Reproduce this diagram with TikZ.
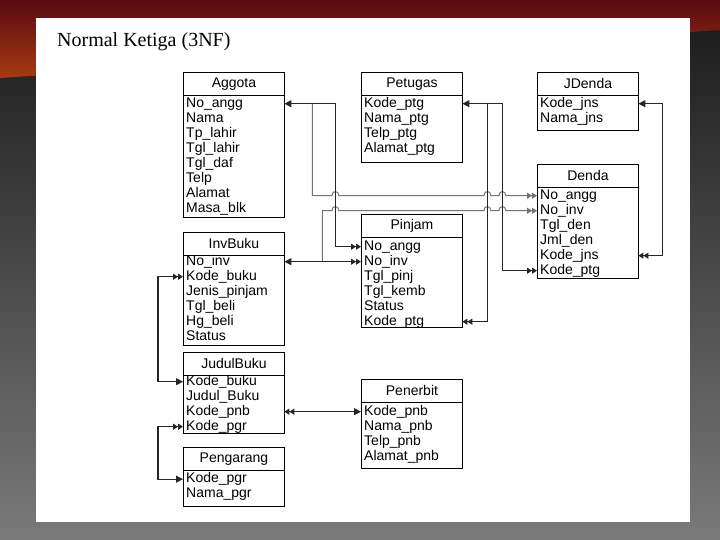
\documentclass[tikz,border=0pt]{standalone}
\usepackage{fontspec}
\setmainfont{Liberation Serif}
\newfontfamily\tabfont{Liberation Sans}
\usetikzlibrary{arrows.meta,calc}
\definecolor{redtop}{RGB}{88,10,18}
\definecolor{redbot}{RGB}{168,58,16}
\definecolor{bgtop}{RGB}{24,24,24}
\definecolor{bgbot}{RGB}{122,122,122}
\newcommand\ertable[7]{%
  \node[ttl] (#1) at (#2,#3) {#4};
  \node[bodybox, minimum height=#6-#3-23] (#1b) at (#2,#3+23) {};
  \foreach \f [count=\i] in {#7} {\node[fld] (#1-\i) at (#2,#5+\i*15-15) {\f};}
}
\begin{document}
\begin{tikzpicture}[x=1pt,y=-1pt,
  ttl/.style={draw, line width=0.9pt, minimum width=101pt, minimum height=23pt, inner sep=0pt,
    font=\tabfont\fontsize{14}{16}\selectfont, anchor=north west},
  bodybox/.style={draw, line width=0.9pt, inner sep=0pt, anchor=north west, minimum width=101pt},
  fld/.style={inner xsep=3pt, inner ysep=0pt, text width=95pt, align=left, minimum height=15pt,
    text height=10pt, text depth=3pt, font=\tabfont\fontsize{14}{15}\selectfont, anchor=north west},
  conn/.style={draw=black!85, line width=1.2pt},
  branch/.style={draw=black!55, line width=1pt},
  o2m/.style={{Triangle[length=7pt,width=7pt]}-{Triangle[length=5pt,width=6pt]Triangle[length=5pt,width=6pt]}},
  m2o/.style={{Triangle[length=5pt,width=6pt]Triangle[length=5pt,width=6pt]}-{Triangle[length=7pt,width=7pt]}},
  tomany/.style={-{Triangle[length=5pt,width=6pt]Triangle[length=5pt,width=6pt]}},
  hop/.style={insert path={-- ($(#1)+(-3.5,0)$) .. controls ($(#1)+(-3.5,-5.5)$) and ($(#1)+(3.5,-5.5)$) .. ($(#1)+(3.5,0)$)}}
]
\useasboundingbox (0,0) rectangle (720,540);
% background
\shade[top color=bgtop, bottom color=bgbot] (0,0) rectangle (720,540);
\shade[top color=redtop, bottom color=redbot] (0,0) -- (720,0) -- (720,30) -- (0,78) -- cycle;
\fill[white] (36,18) rectangle (690,522);
\node[font=\fontsize{20}{24}\selectfont, anchor=base west, inner sep=0pt] (title) at (57,47) {Normal Ketiga (3NF)};
% tables
\ertable{agg}{183}{72}{Aggota}{96}{217}{No\_angg,Nama,Tp\_lahir,Tgl\_lahir,Tgl\_daf,Telp,Alamat,Masa\_blk}
\ertable{pet}{361}{72}{Petugas}{96}{162}{Kode\_ptg,Nama\_ptg,Telp\_ptg,Alamat\_ptg}
\ertable{jde}{537}{72}{JDenda}{96}{130}{Kode\_jns,Nama\_jns}
\ertable{den}{537}{164}{Denda}{188}{278}{No\_angg,No\_inv,Tgl\_den,Jml\_den,Kode\_jns,Kode\_ptg}
\ertable{pin}{361}{214}{Pinjam}{239}{327}{No\_angg,No\_inv,Tgl\_pinj,Tgl\_kemb,Status,Kode\_ptg}
\ertable{inv}{183}{232}{InvBuku}{254}{345}{No\_inv,Kode\_buku,Jenis\_pinjam,Tgl\_beli,Hg\_beli,Status}
\ertable{jb}{183}{352}{JudulBuku}{374}{433}{Kode\_buku,Judul\_Buku,Kode\_pnb,Kode\_pgr}
\ertable{pen}{361}{379}{Penerbit}{404}{468}{Kode\_pnb,Nama\_pnb,Telp\_pnb,Alamat\_pnb}
\ertable{pgr}{183}{447}{Pengarang}{471.5}{506}{Kode\_pgr,Nama\_pgr}
% helper coordinates
\path (agg-1.east) ++(51,0) coordinate (vA);
\path (agg-1.east) ++(28,0) coordinate (vB);
\path (inv-1.east) ++(38,0) coordinate (vC);
\path (pet-1.east) ++(25,0) coordinate (vD);
\path (pet-1.east) ++(40,0) coordinate (vE);
\path (jde-1.east) ++(24,0) coordinate (vF);
\path (inv-2.west) ++(-25,0) coordinate (vG);
\coordinate (k1) at (den-1.west -| vA);
\coordinate (k2) at (den-1.west -| vD);
\coordinate (k3) at (den-1.west -| vE);
\coordinate (k4) at (den-2.west -| vA);
\coordinate (k5) at (den-2.west -| vD);
\coordinate (k6) at (den-2.west -| vE);
% connectors
\draw[branch, tomany] (vB) -- (vB |- den-1.west) [hop=k1] [hop=k2] [hop=k3] -- (den-1.west);
\draw[branch, tomany] (vC) -- (vC |- den-2.west) [hop=k4] [hop=k5] [hop=k6] -- (den-2.west);
\draw[conn, o2m] (agg-1.east) -- (vA) |- (pin-1.west);
\draw[conn, o2m] (inv-1.east) -- (pin-2.west);
\draw[conn, o2m] (pet-1.east) -- (vE) |- (den-6.west);
\draw[conn, tomany] (vD) |- (pin-6.east);
\draw[conn, o2m] (jde-1.east) -- (vF) |- (den-5.east);
\draw[conn, m2o] (inv-2.west) -- (vG) |- (jb-1.west);
\draw[conn, m2o] (jb-3.east) -- (pen-1.west);
\draw[conn, m2o] (jb-4.west) -- (vG |- jb-4.west) |- (pgr-1.west);
\end{tikzpicture}
\end{document}
